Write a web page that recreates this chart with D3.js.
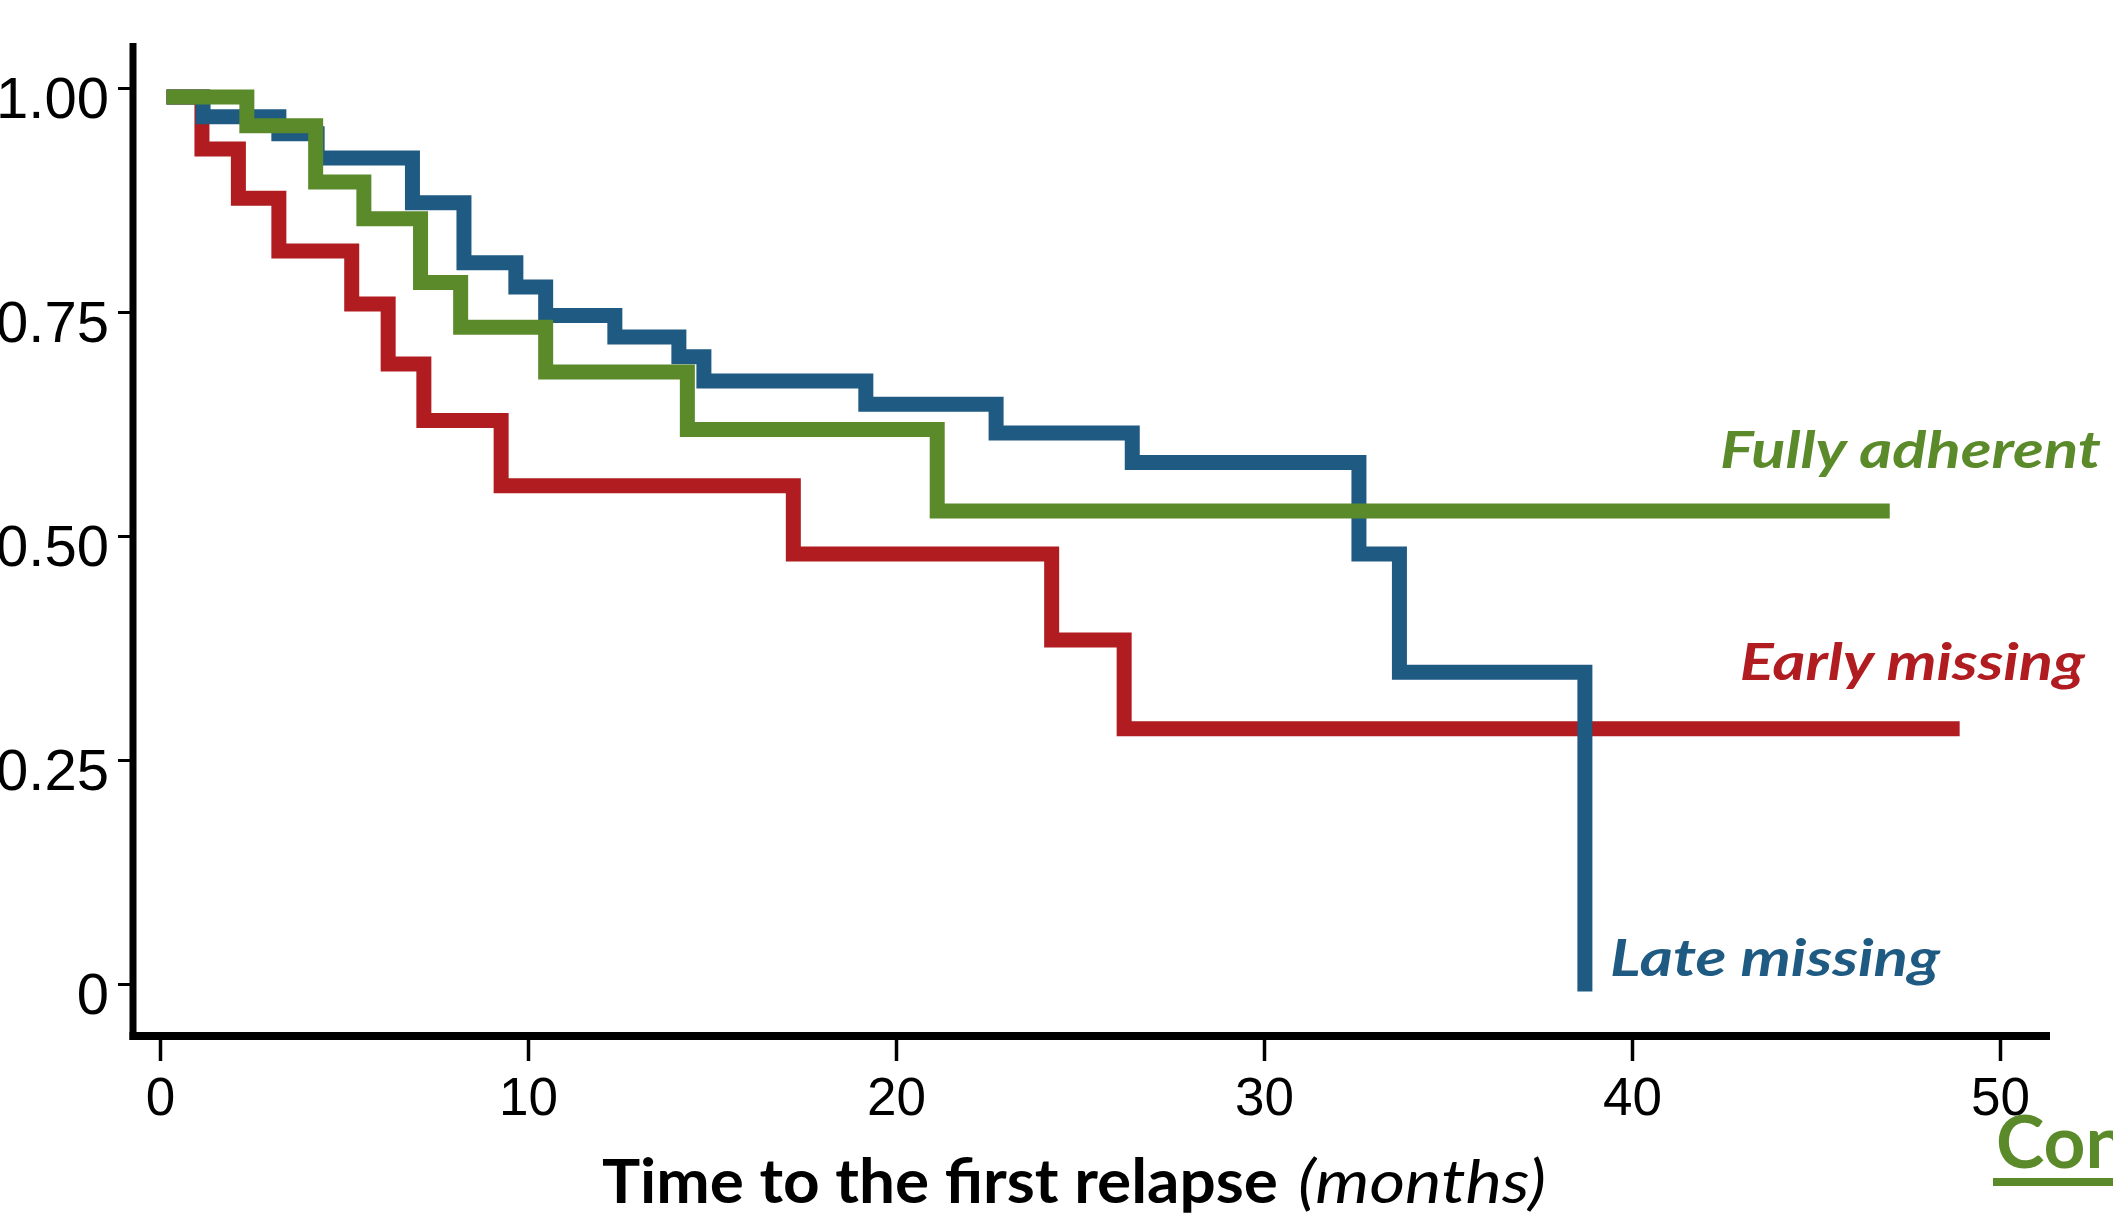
<!DOCTYPE html>
<html>
<head>
<meta charset="utf-8">
<script src="https://cdn.jsdelivr.net/npm/d3@7"></script>
<style>
  html, body { margin: 0; padding: 0; background: #fff; overflow: hidden; }
  svg { display: block; }
</style>
</head>
<body>
<div id="chart"></div>
<script>
var width = 2113,
    height = 1216

// Kaplan-Meier steps: time (months) and survival
var adherentTimes = [0.38, 2.36, 4.23, 5.54, 7.08, 8.17, 10.48, 14.33, 21.12, 46.8]
var adherentSurv  = [0.99, 0.958, 0.895, 0.854, 0.783, 0.733, 0.683, 0.619, 0.528, 0.528]

var earlyTimes = [0.38, 1.14, 2.13, 3.23, 5.21, 6.20, 7.17, 9.27, 17.21, 24.23, 26.20, 48.7]
var earlySurv  = [0.99, 0.932, 0.877, 0.818, 0.759, 0.692, 0.629, 0.556, 0.480, 0.384, 0.285, 0.285]

var lateTimes = [0.38, 1.17, 3.23, 4.27, 6.86, 8.26, 9.67, 10.48, 12.36, 14.10, 14.78, 19.18, 22.72, 26.42, 32.58, 33.68, 38.72]
var lateSurv  = [0.99, 0.968, 0.949, 0.922, 0.872, 0.805, 0.778, 0.746, 0.722, 0.700, 0.673, 0.647, 0.615, 0.582, 0.480, 0.348, 0]

var xTicks = [0, 10, 20, 30, 40, 50]
var yTicks = [0, 0.25, 0.5, 0.75, 1]
var yTickLabels = ['0', '0.25', '0.50', '0.75', '1.00']

var seriesNames = ['Early missing', 'Late missing', 'Fully adherent']
var colors = ['#b01c1f', '#1e5a82', '#5b8a2a']

var x = d3.scaleLinear().domain([0, 50]).range([160, 2000])
var y = d3.scaleLinear().domain([0, 1]).range([984, 88])

var svg = d3.select('#chart')
  .append('svg')
  .attr('width', width)
  .attr('height', height)

svg.append('rect').attr('width', '100%').attr('height', '100%').attr('fill', '#fff')

// y axis ticks + labels (domain line drawn separately, it runs past the range)
svg.append('g')
    .attr('transform', 'translate(133,0)')
    .call(d3.axisLeft(y).tickValues(yTicks)
      .tickFormat(function(d, i){ return yTickLabels[i] })
      .tickSize(15).tickPadding(9))
    .attr('font-family', '"Liberation Sans", Arial, sans-serif')
    .attr('font-size', 58)
    .call(function(g){ g.select('.domain').remove() })
    .call(function(g){ g.selectAll('.tick line').attr('stroke', '#000').attr('stroke-width', 3) })
    .call(function(g){ g.selectAll('.tick text').attr('fill', '#000').attr('dy', '0.5em') })

// x axis ticks + labels
svg.append('g')
    .attr('transform', 'translate(0,1036)')
    .call(d3.axisBottom(x).tickValues(xTicks).tickFormat(d3.format('d'))
      .tickSize(25).tickPadding(16))
    .attr('font-family', '"Liberation Sans", Arial, sans-serif')
    .attr('font-size', 53)
    .call(function(g){ g.select('.domain').remove() })
    .call(function(g){ g.selectAll('.tick line').attr('stroke', '#000').attr('stroke-width', 3.5) })
    .call(function(g){ g.selectAll('.tick text').attr('fill', '#000') })

// axis lines
svg.append('line')
    .attr('x1', 133).attr('y1', 43).attr('x2', 133).attr('y2', 1040)
    .attr('stroke', '#000').attr('stroke-width', 7)
svg.append('line')
    .attr('x1', 129.5).attr('y1', 1036).attr('x2', 2050).attr('y2', 1036)
    .attr('stroke', '#000').attr('stroke-width', 8)

// step curves
var line = d3.line()
    .x(function(d){ return x(d[0]) })
    .y(function(d){ return y(d[1]) })
    .curve(d3.curveStepAfter)

var series = [
  {times: earlyTimes, surv: earlySurv},
  {times: lateTimes, surv: lateSurv},
  {times: adherentTimes, surv: adherentSurv}
]

series.forEach(function(s, i){
  svg.append('path')
      .datum(d3.zip(s.times, s.surv))
      .attr('d', line)
      .attr('fill', 'none')
      .attr('stroke', colors[i])
      .attr('stroke-width', 15)
      .attr('stroke-linejoin', 'miter')
      .attr('stroke-linecap', 'square')
})

// curve labels, placed in data units
var labelAt = [[42.93, 0.339, 345], [39.40, 0.009, 330], [42.39, 0.576, 381]]
seriesNames.forEach(function(name, i){
  svg.append('text')
      .attr('x', x(labelAt[i][0]))
      .attr('y', y(labelAt[i][1]))
      .attr('font-family', 'Lato, "Open Sans", sans-serif')
      .attr('font-weight', 'bold')
      .attr('font-style', 'italic')
      .attr('font-size', 52)
      .attr('fill', colors[i])
      .attr('textLength', labelAt[i][2])
      .attr('lengthAdjust', 'spacingAndGlyphs')
      .text(name)
})

// axis title
svg.append('text')
    .attr('x', 602).attr('y', 1203)
    .attr('font-family', 'Lato, "Open Sans", sans-serif')
    .attr('font-weight', 'bold')
    .attr('font-size', 62)
    .attr('fill', '#000')
    .attr('textLength', 676)
    .attr('lengthAdjust', 'spacingAndGlyphs')
    .text('Time to the first relapse')
svg.append('text')
    .attr('x', 1298).attr('y', 1203)
    .attr('font-family', 'Lato, "Open Sans", sans-serif')
    .attr('font-style', 'italic')
    .attr('font-size', 60)
    .attr('fill', '#000')
    .attr('textLength', 248)
    .attr('lengthAdjust', 'spacingAndGlyphs')
    .text('(months)')

// cut-off slide heading in the corner
svg.append('text')
    .attr('x', 1996).attr('y', 1168)
    .attr('font-family', 'Lato, "Open Sans", sans-serif')
    .attr('font-weight', 'bold')
    .attr('font-size', 73)
    .attr('fill', '#5b8a2a')
    .text('Conclusions')
svg.append('line')
    .attr('x1', 1993).attr('y1', 1182).attr('x2', width).attr('y2', 1182)
    .attr('stroke', '#5b8a2a').attr('stroke-width', 8)
</script>
</body>
</html>
